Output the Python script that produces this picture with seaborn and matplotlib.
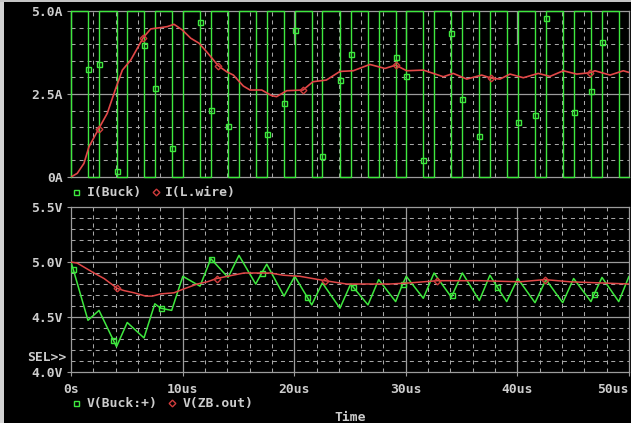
import numpy as np
import matplotlib
matplotlib.use("Agg")
import matplotlib.pyplot as plt
import seaborn as sns
from matplotlib.lines import Line2D
from matplotlib.patches import Rectangle

# ---------------- data (time in microseconds) ----------------
# I(Buck): switching current, edges of each pulse
buck_rise_us = [0.00, 2.51, 5.04, 7.51, 10.02, 12.53, 15.05, 17.54, 20.05, 22.52,
                25.06, 27.57, 30.04, 32.53, 35.07, 37.54, 40.03, 42.56, 45.04, 47.58]
buck_fall_us = [1.52, 4.08, 6.54, 9.02, 11.56, 14.07, 16.55, 19.09, 21.57, 24.10,
                26.61, 29.09, 31.57, 34.08, 36.59, 39.04, 41.58, 44.06, 46.59, 49.08]
buck_high_a = 5.0
buck_low_a = 0.0
# marked samples of I(Buck), lying on the switching edges
buck_mark_us = [1.52, 2.51, 4.08, 6.54, 7.51, 9.02, 11.56, 12.53, 14.07, 17.54,
                19.09, 20.05, 22.52, 24.10, 25.06, 29.09, 30.04, 31.57, 34.08, 35.07,
                36.59, 40.03, 41.58, 42.56, 45.04, 46.59, 47.58]
buck_mark_a = [3.25, 3.41, 0.17, 3.98, 2.68, 0.87, 4.66, 2.02, 1.53, 1.29,
               2.23, 4.42, 0.62, 2.93, 3.71, 3.62, 3.04, 0.50, 4.33, 2.35,
               1.22, 1.65, 1.86, 4.78, 1.95, 2.59, 4.06]

# I(L.wire): inductor current
lwire_us = [0.00, 0.56, 1.16, 1.61, 2.48, 3.25, 4.01, 4.60, 5.35, 6.48,
            7.14, 8.04, 8.63, 9.23, 9.97, 10.73, 11.47, 12.16, 12.90, 13.20,
            13.95, 14.55, 15.44, 16.04, 17.09, 17.98, 18.42, 19.33, 20.79, 21.68,
            22.88, 24.10, 25.29, 26.78, 28.13, 29.10, 30.08, 31.57, 33.36, 34.26,
            35.46, 36.80, 37.63, 38.44, 39.34, 40.53, 41.87, 42.92, 44.11, 45.31,
            46.51, 46.95, 48.30, 49.49, 50.00]
lwire_a = [0.00, 0.11, 0.41, 0.91, 1.45, 1.92, 2.67, 3.22, 3.52, 4.20,
           4.46, 4.50, 4.53, 4.60, 4.43, 4.18, 4.03, 3.77, 3.47, 3.35,
           3.17, 3.07, 2.74, 2.62, 2.62, 2.45, 2.42, 2.60, 2.62, 2.87,
           2.92, 3.18, 3.20, 3.39, 3.27, 3.37, 3.20, 3.22, 3.02, 3.12,
           2.95, 3.07, 2.98, 2.95, 3.10, 2.99, 3.12, 3.03, 3.20, 3.10,
           3.14, 3.20, 3.07, 3.20, 3.15]
lwire_mark_us = [2.48, 6.48, 13.20, 20.79, 29.10, 37.63, 46.51]

# V(Buck:+): input node voltage
vbuck_us = [0.00, 0.18, 1.52, 2.51, 3.79, 4.08, 5.04, 6.54, 7.51, 8.04,
            9.02, 10.02, 11.56, 12.53, 14.07, 15.05, 16.55, 17.09, 17.54, 19.09,
            20.05, 21.17, 21.57, 22.52, 24.10, 25.06, 25.30, 26.61, 27.57, 29.09,
            29.72, 30.04, 31.57, 32.53, 34.08, 34.17, 35.07, 36.59, 37.54, 38.20,
            39.04, 40.03, 41.58, 42.56, 44.06, 45.04, 46.59, 46.89, 47.58, 49.08,
            50.00]
vbuck_v = [5.00, 4.94, 4.47, 4.56, 4.29, 4.23, 4.45, 4.31, 4.62, 4.58,
           4.56, 4.87, 4.78, 5.03, 4.86, 5.06, 4.80, 4.90, 4.98, 4.69,
           4.87, 4.68, 4.61, 4.81, 4.58, 4.80, 4.77, 4.61, 4.84, 4.64,
           4.80, 4.87, 4.67, 4.90, 4.68, 4.70, 4.90, 4.65, 4.88, 4.77,
           4.64, 4.85, 4.63, 4.84, 4.63, 4.85, 4.64, 4.71, 4.86, 4.64,
           4.87]
vbuck_mark_us = [0.18, 3.79, 8.04, 12.53, 17.09, 21.17, 25.30, 29.72, 34.17, 38.20, 46.89]

# V(ZB.out): output voltage
vout_us = [0.00, 0.56, 2.06, 2.96, 4.15, 4.75, 5.65, 6.69, 7.29, 8.04,
           9.23, 9.97, 11.32, 12.21, 13.06, 14.01, 15.50, 16.40, 17.83, 19.02,
           20.52, 22.76, 24.70, 26.50, 28.58, 30.38, 32.80, 36.65, 40.23, 42.47,
           44.71, 47.40, 50.00]
vout_v = [5.00, 4.99, 4.90, 4.85, 4.76, 4.74, 4.72, 4.69, 4.69, 4.71,
          4.72, 4.75, 4.80, 4.82, 4.85, 4.87, 4.90, 4.90, 4.90, 4.88,
          4.87, 4.83, 4.80, 4.80, 4.80, 4.81, 4.83, 4.83, 4.82, 4.84,
          4.82, 4.81, 4.80]
vout_mark_us = [4.15, 13.06, 22.76, 32.80, 42.47]

t_end_us = 50.0
x_ticks_us = [0, 10, 20, 30, 40, 50]
x_tick_labels = ["0s", "10us", "20us", "30us", "40us", "50us"]
top_ticks = [0.0, 2.5, 5.0]
top_tick_labels = ["0A", "2.5A", "5.0A"]
bot_ticks = [4.0, 4.5, 5.0, 5.5]
bot_tick_labels = ["4.0V", "4.5V", "5.0V", "5.5V"]

# ---------------- style ----------------
W, H = 631, 423
GREEN = "#3ee83e"
RED = "#e24848"
RED_MK = "#d03c3c"
TXT = "#cdcdcd"
GRID = "#a6a6a6"
FRAME = "#9c9c9c"
FS = 9.4

sns.set_theme(style="dark", rc={
    "figure.facecolor": "black", "axes.facecolor": "black",
    "axes.edgecolor": FRAME, "lines.scale_dashes": False,
})
plt.rcParams["font.family"] = ["DejaVu Sans Mono", "DejaVu Sans"]
plt.rcParams["font.weight"] = "bold"

fig = plt.figure(figsize=(W / 100, H / 100), dpi=100)


def fx(px):
    return px / W


def fy(py):
    return 1 - py / H


ax1 = fig.add_axes([fx(71), fy(177), fx(629) - fx(71), fy(11) - fy(177)])
ax2 = fig.add_axes([fx(71), fy(372), fx(629) - fx(71), fy(207) - fy(372)])

DASH = (0, (2.9, 2.9))
minor_x = [t for t in np.arange(2, 50, 2) if t % 10 != 0]

# grid of the current plot
for v in [0.5, 1.0, 1.5, 2.0, 3.0, 3.5, 4.0, 4.5]:
    ax1.axhline(v, color=GRID, lw=0.75, ls=DASH, zorder=1)
ax1.axhline(2.5, color=FRAME, lw=0.9, zorder=1)
for t in minor_x:
    ax1.axvline(t, color=GRID, lw=0.75, ls=DASH, zorder=1)
for t in [10, 20, 30, 40]:
    ax1.axvline(t, ymin=0.8, ymax=1.0, color=FRAME, lw=0.9, zorder=1)

# grid of the voltage plot
for v in [4.1, 4.2, 4.3, 4.4, 4.6, 4.7, 4.8, 4.9, 5.1, 5.2, 5.3, 5.4]:
    ax2.axhline(v, color=GRID, lw=0.75, ls=DASH, zorder=1)
for v in [4.5, 5.0]:
    ax2.axhline(v, color=FRAME, lw=0.9, zorder=1)
for t in minor_x:
    ax2.axvline(t, color=GRID, lw=0.75, ls=DASH, zorder=1)
for t in [10, 20, 30, 40]:
    ax2.axvline(t, color=FRAME, lw=0.9, zorder=1)

# ---------------- traces ----------------
t_b, i_b = [], []
for r, f in zip(buck_rise_us, buck_fall_us):
    t_b += [r, r, f, f]
    i_b += [buck_low_a, buck_high_a, buck_high_a, buck_low_a]
t_b.append(t_end_us)
i_b.append(buck_low_a)

sns.lineplot(x=t_b, y=i_b, ax=ax1, sort=False, estimator=None,
             color=GREEN, lw=1.0, zorder=3, clip_on=False)
sns.lineplot(x=buck_mark_us, y=buck_mark_a, ax=ax1, sort=False, estimator=None,
             linestyle="none", marker="s", markersize=3.6, markerfacecolor="none",
             markeredgecolor=GREEN, markeredgewidth=1.0, zorder=4)

sns.lineplot(x=lwire_us, y=lwire_a, ax=ax1, sort=False, estimator=None,
             color=RED, lw=1.2, zorder=5)
lw_mk = [lwire_a[lwire_us.index(t)] for t in lwire_mark_us]
sns.lineplot(x=lwire_mark_us, y=lw_mk, ax=ax1, sort=False, estimator=None,
             linestyle="none", marker="D", markersize=3.4, markerfacecolor="none",
             markeredgecolor=RED_MK, markeredgewidth=1.0, zorder=6)

sns.lineplot(x=vbuck_us, y=vbuck_v, ax=ax2, sort=False, estimator=None,
             color=GREEN, lw=1.1, zorder=3)
vb_mk = [vbuck_v[vbuck_us.index(t)] for t in vbuck_mark_us]
sns.lineplot(x=vbuck_mark_us, y=vb_mk, ax=ax2, sort=False, estimator=None,
             linestyle="none", marker="s", markersize=3.6, markerfacecolor="none",
             markeredgecolor=GREEN, markeredgewidth=1.0, zorder=4)

sns.lineplot(x=vout_us, y=vout_v, ax=ax2, sort=False, estimator=None,
             color=RED, lw=1.1, zorder=5)
vo_mk = [vout_v[vout_us.index(t)] for t in vout_mark_us]
sns.lineplot(x=vout_mark_us, y=vo_mk, ax=ax2, sort=False, estimator=None,
             linestyle="none", marker="D", markersize=3.4, markerfacecolor="none",
             markeredgecolor=RED_MK, markeredgewidth=1.0, zorder=6)

# ---------------- axes ----------------
for ax in (ax1, ax2):
    ax.set_xlim(0, t_end_us)
    ax.set_xlabel("")
    ax.set_ylabel("")
    ax.grid(False)
    for s in ax.spines.values():
        s.set_color(FRAME)
        s.set_linewidth(0.9)
        s.set_visible(True)
    ax.tick_params(axis="both", direction="out", length=3, width=0.8,
                   color=FRAME, labelcolor=TXT, labelsize=FS, pad=3,
                   left=True, bottom=True)

ax1.set_ylim(0, 5)
ax1.set_yticks(top_ticks)
ax1.set_yticklabels(top_tick_labels)
ax1.set_xticks([])

ax2.set_ylim(4.0, 5.5)
ax2.set_yticks(bot_ticks)
ax2.set_yticklabels(bot_tick_labels)
ax2.set_xticks(x_ticks_us)
ax2.set_xticklabels(x_tick_labels)
ax2.tick_params(axis="x", pad=5)
ax2.get_xticklabels()[-1].set_horizontalalignment("right")
ax2.get_xticklabels()[-1].set_x(t_end_us + 0.6)

# ---------------- legends and labels ----------------
def legend_item(px, py, marker, color, label, tx):
    fig.add_artist(Line2D([fx(px)], [fy(py)], transform=fig.transFigure,
                          marker=marker, markersize=3.6 if marker == "s" else 3.4,
                          markerfacecolor="none", markeredgecolor=color,
                          markeredgewidth=1.0, linestyle="none"))
    fig.text(fx(tx), fy(py), label, color=TXT, fontsize=FS, ha="left", va="center")


legend_item(76, 192, "s", GREEN, "I(Buck)", 87)
legend_item(156, 192, "D", RED_MK, "I(L.wire)", 165)
legend_item(76, 403, "s", GREEN, "V(Buck:+)", 87)
legend_item(172, 403, "D", RED_MK, "V(ZB.out)", 183)

fig.text(fx(27), fy(357), "SEL>>", color=TXT, fontsize=FS, ha="left", va="center")
fig.text(fx(350), fy(417), "Time", color=TXT, fontsize=FS, ha="center", va="center")

# window frame at the left and top edges
fig.add_artist(Rectangle((0, 0), fx(4), 1, transform=fig.transFigure,
                         facecolor="#d4d4d4", edgecolor="none"))
fig.add_artist(Rectangle((0, fy(2)), 1, fy(0) - fy(2), transform=fig.transFigure,
                         facecolor="#c4c4c4", edgecolor="none"))

fig.savefig("out.png", dpi=100, facecolor="black")
